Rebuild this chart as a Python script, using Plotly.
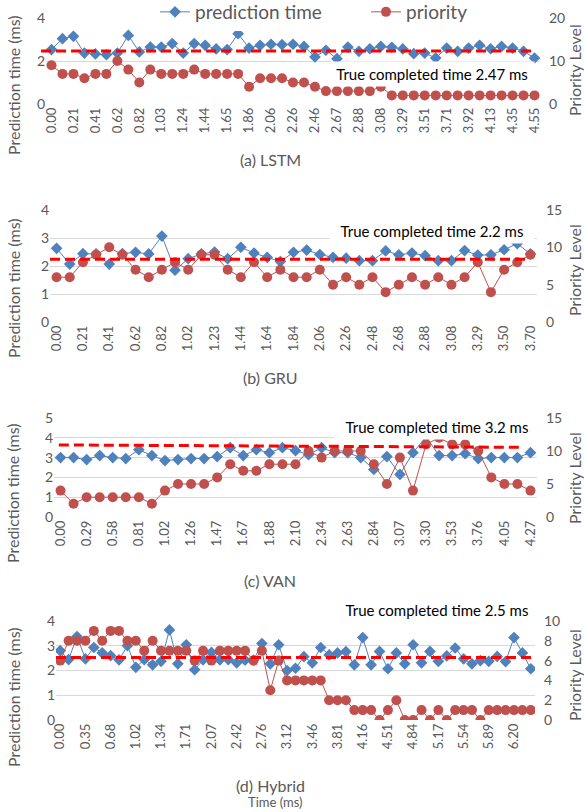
import plotly.graph_objects as go

W, H = 584, 812

# ---------------- data ----------------
lstm_time = ["0.00", "0.10", "0.21", "0.31", "0.41", "0.51", "0.62", "0.72", "0.82", "0.93",
             "1.03", "1.13", "1.24", "1.34", "1.44", "1.55", "1.65", "1.75", "1.86", "1.96",
             "2.06", "2.16", "2.26", "2.36", "2.46", "2.57", "2.67", "2.77", "2.88", "2.98",
             "3.08", "3.19", "3.29", "3.40", "3.51", "3.61", "3.71", "3.82", "3.92", "4.03",
             "4.13", "4.24", "4.35", "4.45", "4.55"]
lstm_pred = [2.53, 3.04, 3.15, 2.37, 2.33, 2.29, 2.37, 3.19, 2.42, 2.65,
             2.65, 2.81, 2.37, 2.81, 2.73, 2.56, 2.53, 3.27, 2.60, 2.73,
             2.78, 2.76, 2.78, 2.68, 2.19, 2.50, 2.11, 2.65, 2.45, 2.57,
             2.68, 2.64, 2.56, 2.34, 2.37, 2.14, 2.60, 2.45, 2.60, 2.73,
             2.57, 2.68, 2.60, 2.45, 2.14]
lstm_prio = [9, 7, 7, 6, 7, 7, 10, 8, 5, 8,
             7, 7, 7, 8, 7, 7, 7, 7, 4, 6,
             6, 6, 5, 5, 4, 3, 3, 3, 3, 3,
             4, 2, 2, 2, 2, 2, 2, 2, 2, 2,
             2, 2, 2, 2, 2]

gru_time = ["0.00", "0.10", "0.21", "0.31", "0.41", "0.51", "0.62", "0.72", "0.82", "0.92",
            "1.02", "1.12", "1.23", "1.33", "1.44", "1.54", "1.64", "1.74", "1.84", "1.95",
            "2.06", "2.16", "2.26", "2.37", "2.48", "2.58", "2.68", "2.78", "2.88", "2.98",
            "3.08", "3.19", "3.29", "3.40", "3.50", "3.60", "3.70"]
gru_pred = [2.63, 2.07, 2.44, 2.43, 2.07, 2.44, 2.49, 2.43, 3.07, 1.85,
            2.26, 2.43, 2.50, 2.26, 2.67, 2.46, 2.31, 2.16, 2.49, 2.57,
            2.41, 2.31, 2.28, 2.19, 2.19, 2.54, 2.40, 2.46, 2.37, 2.19,
            2.19, 2.55, 2.39, 2.40, 2.58, 2.80, 2.43]
gru_prio = [6, 6, 8, 9, 10, 9, 7, 6, 7, 8,
            7, 9, 9, 7, 6, 8, 6, 7, 6, 6,
            7, 5, 6, 5, 6, 4, 5, 6, 5, 6,
            5, 6, 8, 4, 7, 8, 9]

van_time = ["0.00", "0.15", "0.29", "0.44", "0.58", "0.70", "0.81", "0.92", "1.02", "1.14",
            "1.26", "1.37", "1.47", "1.57", "1.67", "1.78", "1.88", "1.99", "2.10", "2.22",
            "2.34", "2.49", "2.63", "2.74", "2.84", "2.96", "3.07", "3.19", "3.30", "3.42",
            "3.53", "3.65", "3.76", "3.91", "4.05", "4.16", "4.27"]
van_pred = [3.00, 3.00, 2.90, 3.10, 3.00, 2.95, 3.40, 3.10, 2.85, 2.90,
            2.95, 2.95, 3.05, 3.50, 3.10, 3.40, 3.25, 3.50, 3.35, 3.15,
            3.50, 3.25, 3.25, 3.00, 2.40, 3.05, 2.15, 3.25, 4.05, 3.10,
            3.10, 3.20, 2.95, 3.00, 3.00, 3.00, 3.25]
van_prio = [4, 2, 3, 3, 3, 3, 3, 2, 4, 5,
            5, 5, 6, 8, 7, 7, 8, 8, 8, 10,
            9, 10, 10, 10, 8, 5, 9, 4, 11, 12,
            11, 11, 10, 6, 5, 5, 4]

hyb_time = ["0.00", "0.12", "0.23", "0.35", "0.46", "0.57", "0.68", "0.79", "0.91", "1.02",
            "1.13", "1.23", "1.34", "1.46", "1.59", "1.71", "1.83", "1.95", "2.07", "2.19",
            "2.31", "2.42", "2.53", "2.65", "2.76", "2.88", "3.00", "3.12", "3.23", "3.35",
            "3.46", "3.58", "3.69", "3.81", "3.93", "4.04", "4.16", "4.28", "4.39", "4.51",
            "4.62", "4.73", "4.84", "4.95", "5.06", "5.17", "5.29", "5.42", "5.54", "5.66",
            "5.77", "5.89", "6.00", "6.10", "6.20", "6.31", "6.42"]
hyb_pred = [2.80, 2.44, 3.37, 2.47, 2.93, 2.71, 2.60, 2.43, 3.00, 2.13,
            2.44, 2.23, 2.37, 3.64, 2.27, 3.04, 2.03, 2.43, 2.73, 2.43,
            2.44, 2.31, 2.42, 2.42, 3.09, 2.27, 3.04, 2.00, 2.09, 2.56,
            2.31, 2.93, 2.63, 2.71, 2.76, 2.23, 3.33, 2.23, 2.77, 2.07,
            2.71, 2.27, 3.04, 2.31, 2.77, 2.37, 2.59, 2.91, 2.47, 2.27,
            2.40, 2.37, 2.57, 2.36, 3.33, 2.71, 2.07]
hyb_prio = [6, 8, 8, 8, 9, 8, 9, 9, 8, 8,
            7, 8, 7, 7, 7, 7, 6, 7, 6, 7,
            7, 7, 7, 6, 7, 3, 6, 4, 4, 4,
            4, 4, 2, 2, 2, 1, 1, 1, 0, 1,
            2, 0, 0, 1, 0, 1, 0, 1, 1, 1,
            0, 1, 1, 1, 1, 1, 1]

tick_step = [2, 2, 2, 3]
captions = ["(a) LSTM", "(b) GRU", "(c) VAN", "(d) Hybrid"]
true_labels = ["True completed time 2.47 ms", "True completed time 2.2 ms",
               "True completed time 3.2 ms", "True completed time 2.5 ms"]
ref_start = [2.47, 2.24, 3.64, 2.53]
ref_end = [2.47, 2.24, 3.52, 2.53]
left_max = [4, 4, 5, 4]
left_dtick = [2, 1, 1, 1]
right_max = [20, 15, 15, 10]
right_dtick = [10, 5, 5, 2]

panels = [
    (lstm_time, lstm_pred, lstm_prio),
    (gru_time, gru_pred, gru_prio),
    (van_time, van_pred, van_prio),
    (hyb_time, hyb_pred, hyb_prio),
]

# ---------------- layout geometry (pixels) ----------------
plot_x = [(46, 540), (50, 537), (54, 537), (56, 535)]
plot_y = [(18, 104), (210, 322), (418, 517), (621, 720)]
left_title_y = [85, 288, 493, 697]
right_title_y = [70, 270, 478, 675]
ref_text_pos = [(432, 74), (432, 231), (437, 427), (437, 610)]
caption_y = [160, 377, 580, 785]
dash_x = [(-0.01, 0.99), (0.0, 0.985), (0.01, 0.97), (0.0, 1.0)]

BLUE = "#4F81BD"
RED = "#C0504D"
GRAY = "#595959"
GRID = "#D9D9D9"
FONT = "Lato"


def fx(px):
    return px / W


def fy(py):
    return 1 - py / H


fig = go.Figure()
layout = dict(
    width=W, height=H,
    margin=dict(l=0, r=0, t=0, b=0, autoexpand=False),
    paper_bgcolor="white", plot_bgcolor="white",
    font=dict(family=FONT, color=GRAY, size=14),
    showlegend=True,
    legend=dict(orientation="h", x=fx(155), y=fy(12), xanchor="left", yanchor="middle",
                bgcolor="white", font=dict(size=19, color=GRAY),
                entrywidth=200, entrywidthmode="pixels", borderwidth=0),
    legend2=dict(orientation="h", x=fx(366), y=fy(12), xanchor="left", yanchor="middle",
                 bgcolor="white", font=dict(size=19, color=GRAY), borderwidth=0),
)
shapes = []
annotations = []

for i, (t, pred, prio) in enumerate(panels):
    xn = "x" if i == 0 else f"x{i + 1}"
    yl = "y" if i == 0 else f"y{2 * i + 1}"
    yr = f"y{2 * i + 2}"
    xkey = "xaxis" if i == 0 else f"xaxis{i + 1}"
    ylkey = "yaxis" if i == 0 else f"yaxis{2 * i + 1}"
    yrkey = f"yaxis{2 * i + 2}"

    fig.add_trace(go.Scatter(
        x=t, y=pred, xaxis=xn, yaxis=yl, mode="lines+markers",
        name="prediction time", showlegend=(i == 0), legend="legend",
        line=dict(color=BLUE, width=1),
        marker=dict(symbol="diamond", size=9, color=BLUE)))
    fig.add_trace(go.Scatter(
        x=t, y=prio, xaxis=xn, yaxis=yr, mode="lines+markers",
        name="priority", showlegend=(i == 0), legend="legend2",
        line=dict(color=RED, width=1),
        marker=dict(symbol="circle", size=10, color=RED)))

    x0, x1 = plot_x[i]
    yt, yb = plot_y[i]
    layout[xkey] = dict(
        domain=[fx(x0), fx(x1)], anchor=yl, type="category", automargin=False,
        categoryorder="array", categoryarray=t, range=[-0.5, len(t) - 0.5],
        tickmode="array", tickvals=t[::tick_step[i]],
        tickangle=-90, showgrid=False, zeroline=False, showline=False,
        ticks="", tickfont=dict(size=13, color=GRAY, family=FONT))
    layout[ylkey] = dict(
        domain=[fy(yb), fy(yt)], anchor=xn, range=[0, left_max[i]], automargin=False,
        dtick=left_dtick[i], tick0=0, showgrid=True, gridcolor=GRID, gridwidth=1,
        zeroline=False, showline=False, ticks="",
        tickfont=dict(size=14, color=GRAY, family=FONT))
    layout[yrkey] = dict(
        overlaying=yl, side="right", anchor=xn, range=[0, right_max[i]], automargin=False,
        dtick=right_dtick[i], tick0=0, showgrid=False, zeroline=False,
        showline=False, ticks="", ticklabelstandoff=8,
        tickfont=dict(size=14, color=GRAY, family=FONT))

    dom = ("x" if i == 0 else f"x{i + 1}") + " domain"
    shapes.append(dict(
        type="line", xref=dom, yref=yl, x0=dash_x[i][0], x1=dash_x[i][1],
        y0=ref_start[i], y1=ref_end[i],
        line=dict(color="#FF0000", width=3, dash="10px,5px"), layer="above"))

    tx, ty = ref_text_pos[i]
    annotations.append(dict(
        text=true_labels[i], xref="paper", yref="paper", x=fx(tx), y=fy(ty),
        xanchor="center", yanchor="middle", showarrow=False,
        font=dict(size=15, color="black", family=FONT),
        bgcolor="white", width=198, borderpad=3))
    annotations.append(dict(
        text=captions[i], xref="paper", yref="paper", x=fx(270), y=fy(caption_y[i]),
        xanchor="center", yanchor="middle", showarrow=False,
        font=dict(size=16, color=GRAY, family=FONT)))
    annotations.append(dict(
        text="Prediction time (ms)", xref="paper", yref="paper", x=fx(13),
        y=fy(left_title_y[i]), xanchor="center", yanchor="middle", textangle=-90,
        showarrow=False, font=dict(size=16, color=GRAY, family=FONT)))
    annotations.append(dict(
        text="Priority Level", xref="paper", yref="paper", x=fx(574),
        y=fy(right_title_y[i]), xanchor="center", yanchor="middle", textangle=-90,
        showarrow=False, font=dict(size=16, color=GRAY, family=FONT)))

annotations.append(dict(
    text="Time (ms)", xref="paper", yref="paper", x=fx(275), y=fy(802),
    xanchor="center", yanchor="middle", showarrow=False,
    font=dict(size=13, color=GRAY, family=FONT)))

layout["shapes"] = shapes
layout["annotations"] = annotations
fig.update_layout(**layout)
fig.write_html(
    "out.html",
    config={"displayModeBar": False},
    post_script="document.body.style.margin='0';document.body.style.overflow='hidden';")
